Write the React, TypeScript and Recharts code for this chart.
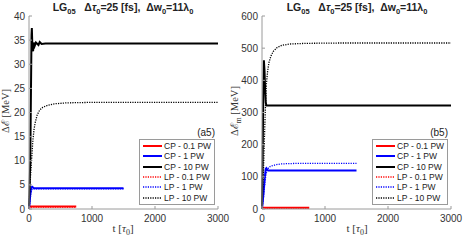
import React from "react"
import { LineChart, Line, XAxis, YAxis, Legend } from "recharts"

const seriesNames = ["CP - 0.1 PW", "CP - 1 PW", "CP - 10 PW", "LP - 0.1 PW", "LP - 1 PW", "LP - 10 PW"]
const seriesColors = ["#ff0000", "#0000ff", "#000000", "#ff0000", "#0000ff", "#000000"]
const seriesDotted = [false, false, false, true, true, true]

const xTicks = [0, 1000, 2000, 3000]
const yTicksA = [0, 5, 10, 15, 20, 25, 30, 35, 40]
const yTicksB = [0, 100, 200, 300, 400, 500, 600]

// panel (a5): energy gain
const tA_cp01 = [0, 10, 750]
const vA_cp01 = [0.3, 0.5, 0.5]
const tA_cp1 = [0, 10, 20, 30, 40, 50, 60, 80, 100, 150, 1500]
const vA_cp1 = [0, 1.5, 3.0, 4.0, 4.5, 4.6, 4.5, 4.3, 4.3, 4.3, 4.3]
const tA_cp10 = [0, 20, 40, 45, 55, 65, 75, 90, 110, 150, 170, 200, 260, 3000]
const vA_cp10 = [0, 10, 36, 37.5, 33, 32.7, 34.5, 33.8, 34.5, 34.0, 34.6, 34.2, 34.3, 34.3]
const tA_lp01 = [0, 10, 750]
const vA_lp01 = [0.2, 0.4, 0.4]
const tA_lp1 = [0, 10, 20, 30, 40, 50, 60, 80, 100, 1500]
const vA_lp1 = [0, 1, 2.2, 3.2, 3.8, 4.1, 4.2, 4.2, 4.2, 4.2]
const tA_lp10 = [0, 20, 40, 60, 80, 100, 130, 170, 220, 300, 400, 600, 1000, 2000, 3000]
const vA_lp10 = [0, 6, 10, 14, 16.5, 18, 19.5, 20.5, 21.1, 21.5, 21.8, 22, 22.1, 22.1, 22.1]

// panel (b5): max energy
const tB_cp01 = [0, 10, 750]
const vB_cp01 = [3, 4, 4]
const tB_cp1 = [0, 15, 30, 45, 60, 70, 85, 100, 1500]
const vB_cp1 = [0, 30, 65, 100, 125, 127, 121, 120, 120]
const tB_cp10 = [0, 10, 20, 30, 40, 50, 60, 70, 80, 3000]
const vB_cp10 = [0, 150, 350, 462, 430, 370, 330, 322, 322, 322]
const tB_lp01 = [0, 10, 750]
const vB_lp01 = [1, 2, 2]
const tB_lp1 = [0, 20, 40, 60, 80, 100, 130, 170, 230, 300, 400, 600, 1000, 1500]
const vB_lp1 = [0, 30, 70, 105, 120, 127, 132, 135, 138, 140, 141, 142, 142, 142]
const tB_lp10 = [0, 20, 40, 55, 70, 90, 110, 140, 180, 240, 320, 450, 700, 1200, 3000]
const vB_lp10 = [0, 100, 230, 320, 390, 430, 455, 475, 490, 502, 509, 513, 515, 516, 516]

const pts = (t: number[], v: number[]) => t.map((x, i) => ({ t: x, v: v[i] }))

const seriesA = [pts(tA_cp01, vA_cp01), pts(tA_cp1, vA_cp1), pts(tA_cp10, vA_cp10), pts(tA_lp01, vA_lp01), pts(tA_lp1, vA_lp1), pts(tA_lp10, vA_lp10)]
const seriesB = [pts(tB_cp01, vB_cp01), pts(tB_cp1, vB_cp1), pts(tB_cp10, vB_cp10), pts(tB_lp01, vB_lp01), pts(tB_lp1, vB_lp1), pts(tB_lp10, vB_lp10)]

const sans = "'Liberation Sans', Arial, sans-serif"
const serif = "'Liberation Serif', 'Times New Roman', serif"
const axisGray = "#9a9a9a"
const dotDash = "1.2 1.2"

function makeLegend(tag: string) {
  return function LegendBox() {
    return (
      <div style={{ fontFamily: sans, color: "#222" }}>
        <div style={{ textAlign: "right", fontSize: 10, lineHeight: "13px", height: 13 }}>{tag}</div>
        <div style={{ border: `1px solid ${axisGray}`, background: "#fff", padding: "1px 2px 1px 3px" }}>
          {seriesNames.map((name, i) => (
            <div key={name} style={{ display: "flex", alignItems: "center", height: 10.3, fontSize: 8.5, whiteSpace: "nowrap" }}>
              <svg width={19} height={6} style={{ marginRight: 2 }}>
                <line x1={0} y1={3} x2={19} y2={3} stroke={seriesColors[i]} strokeWidth={seriesDotted[i] ? 1.3 : 2} strokeDasharray={seriesDotted[i] ? dotDash : undefined} />
              </svg>
              {name}
            </div>
          ))}
        </div>
      </div>
    )
  }
}

// titles and axis labels drawn over one panel
function Texts({ cx, ylx, sub }: { cx: number; ylx: number; sub: string }) {
  const cy = 111
  return (
    <svg width={232} height={240} style={{ position: "absolute", left: 0, top: 0, pointerEvents: "none", overflow: "visible" }}>
      <text x={cx} y={11} textAnchor="middle" fontFamily={sans} fontWeight="bold" fontSize={10.5} fill="#222">
        LG<tspan dy={3} fontSize={7.5}>05</tspan>
        <tspan dy={-3}>{"\u00a0\u00a0\u00a0\u0394"}</tspan>
        <tspan fontStyle="italic">τ</tspan>
        <tspan dy={3} fontSize={7.5}>0</tspan>
        <tspan dy={-3}>{"=25 [fs],\u00a0\u00a0\u0394w"}</tspan>
        <tspan dy={3} fontSize={7.5}>0</tspan>
        <tspan dy={-3}>=11λ</tspan>
        <tspan dy={3} fontSize={7.5}>0</tspan>
      </text>
      <text x={cx} y={232} textAnchor="middle" fontFamily={serif} fontSize={11} fill="#333">
        t [<tspan fontStyle="italic">τ</tspan>
        <tspan dy={3} fontSize={8}>0</tspan>
        <tspan dy={-3}>]</tspan>
      </text>
      <text x={cy * -1} y={ylx} transform="rotate(-90)" textAnchor="middle" fontFamily={serif} fontSize={10.5} fill="#333">
        {"\u0394\u2130"}
        {sub ? <tspan dy={2.5} fontSize={7.5}>{sub}</tspan> : null}
        <tspan dy={sub ? -2.5 : 0}>{"\u00a0[MeV]"}</tspan>
      </text>
    </svg>
  )
}

interface PanelProps {
  width: number
  yWidth: number
  rightMargin: number
  yMax: number
  yTicks: number[]
  series: { t: number; v: number }[][]
  tag: string
  legendLeft: number
}

function Panel({ width, yWidth, rightMargin, yMax, yTicks, series, tag, legendLeft }: PanelProps) {
  const tickStyle = { fill: "#333", fontSize: 10, fontFamily: sans }
  return (
    <LineChart width={width} height={240} margin={{ top: 16, right: rightMargin, bottom: 0, left: 0 }}>
      <XAxis dataKey="t" type="number" domain={[0, 3000]} ticks={xTicks} height={31} tickSize={-3} tickMargin={9} stroke={axisGray} tick={tickStyle} />
      <XAxis xAxisId="top" orientation="top" dataKey="t" type="number" domain={[0, 3000]} ticks={xTicks} height={0} tick={false} tickSize={-3} stroke={axisGray} />
      <YAxis type="number" domain={[0, yMax]} ticks={yTicks} width={yWidth} tickSize={-3} tickMargin={7} stroke={axisGray} tick={tickStyle} />
      <YAxis yAxisId="right" orientation="right" type="number" domain={[0, yMax]} ticks={yTicks} width={0} tick={false} tickSize={-3} stroke={axisGray} />
      {series.map((d, i) => (
        <Line
          key={seriesNames[i]}
          data={d}
          dataKey="v"
          name={seriesNames[i]}
          type="linear"
          stroke={seriesColors[i]}
          strokeWidth={seriesDotted[i] ? 1.3 : 2}
          strokeDasharray={seriesDotted[i] ? dotDash : undefined}
          dot={false}
          activeDot={false}
          isAnimationActive={false}
        />
      ))}
      <Legend layout="horizontal" verticalAlign="middle" align="center" content={makeLegend(tag)} wrapperStyle={{ left: legendLeft, top: 126, width: 76 }} />
    </LineChart>
  )
}

export default function App() {
  return (
    <div style={{ position: "absolute", left: 0, top: 0, width: 463, height: 240, background: "#fff" }}>
      <div style={{ position: "absolute", left: 0, top: 0, width: 232, height: 240 }}>
        <Panel width={232} yWidth={29} rightMargin={14} yMax={40} yTicks={yTicksA} series={seriesA} tag="(a5)" legendLeft={139} />
        <Texts cx={123} ylx={9} sub="" />
      </div>
      <div style={{ position: "absolute", left: 232, top: 0, width: 231, height: 240 }}>
        <Panel width={231} yWidth={30} rightMargin={12} yMax={600} yTicks={yTicksB} series={seriesB} tag="(b5)" legendLeft={140} />
        <Texts cx={125} ylx={6} sub="m" />
      </div>
    </div>
  )
}
